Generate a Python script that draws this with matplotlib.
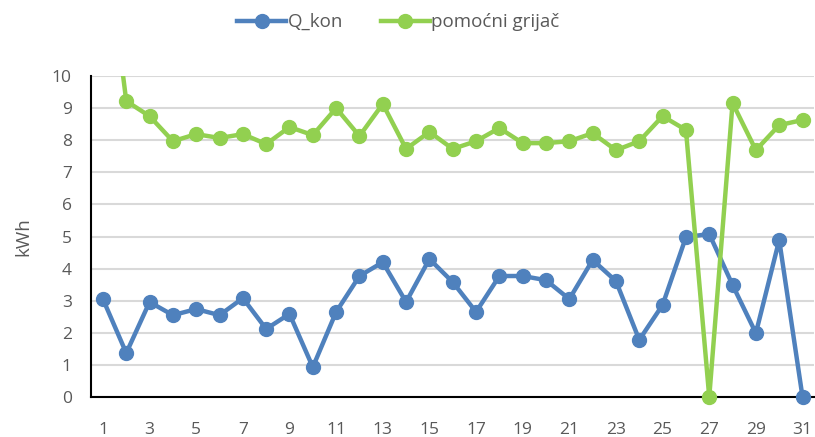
import matplotlib.pyplot as plt
import numpy as np
from matplotlib.transforms import Bbox, TransformedBbox

#=== DATA ===#

days = np.arange(1, 32)
q_kon = [3.05, 1.37, 2.96, 2.55, 2.74, 2.55, 3.08, 2.12, 2.59, 0.93,
         2.65, 3.77, 4.20, 2.96, 4.30, 3.58, 2.65, 3.77, 3.77, 3.64,
         3.05, 4.27, 3.61, 1.78, 2.87, 4.98, 5.08, 3.49, 1.99, 4.89, 0.0]
grijac = [15.0, 9.22, 8.75, 7.97, 8.19, 8.07, 8.19, 7.88, 8.41, 8.16,
          9.00, 8.13, 9.13, 7.73, 8.26, 7.73, 7.97, 8.38, 7.91, 7.91,
          7.97, 8.22, 7.69, 7.97, 8.75, 8.32, 0.0, 9.16, 7.69, 8.47, 8.63]
labels = ['Q_kon', 'pomoćni grijač']
colors = ['#4f81bd', '#92d050']

#=== PLOT ===#

plt.rcParams['font.family'] = ['Open Sans', 'DejaVu Sans']

fig = plt.figure(figsize=(8.15, 4.37), dpi=100)
ax = fig.add_axes([0.112, 0.0915, 0.887, 0.7345])

# extend clip box a bit below the axis so markers at 0 are shown whole
clip = TransformedBbox(Bbox([[0, -0.1], [1, 1]]), ax.transAxes)

for vals, color, label in zip([q_kon, grijac], colors, labels):
    ln, = ax.plot(days, vals, color=color, lw=3.2, marker='o', ms=10,
                  label=label, zorder=3, solid_joinstyle='round')
    ln.set_clip_box(clip)

ax.set_xlim(0.5, 31.5)
ax.set_ylim(0, 10)
ax.set_yticks(range(0, 11))
ax.set_xticks(days[::2])
ax.grid(axis='y', color='#d9d9d9', lw=1.5)
ax.set_axisbelow(True)
ax.tick_params(length=0, labelsize=12.5, labelcolor='#595959')
ax.tick_params(axis='y', pad=14)
ax.tick_params(axis='x', pad=18)

for s in ['top', 'right']:
    ax.spines[s].set_visible(False)
for s in ['left', 'bottom']:
    ax.spines[s].set_color('black')
    ax.spines[s].set_linewidth(1.5)
ax.spines['bottom'].set_zorder(2.5)

ax.set_ylabel('kWh', fontsize=13.5, color='#595959', labelpad=14)

ax.legend(loc='center', bbox_to_anchor=(0.425, 1.168), ncol=2,
          frameon=False, fontsize=13.5, labelcolor='#595959',
          handlelength=2.6, handletextpad=0.1, columnspacing=2.0)

fig.savefig('out.png', dpi=100)
